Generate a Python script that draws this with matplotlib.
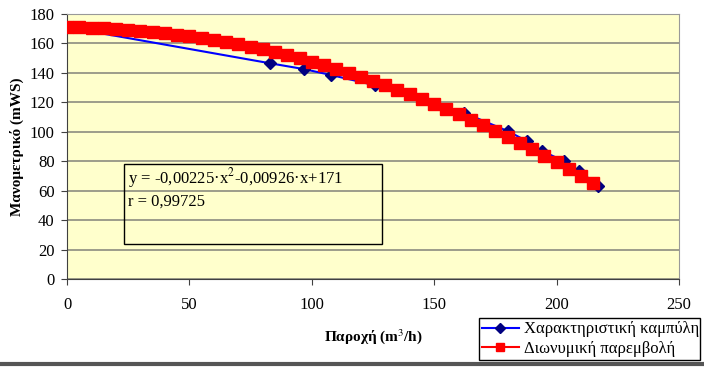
import matplotlib
matplotlib.use("Agg")
import matplotlib.pyplot as plt
from matplotlib.lines import Line2D

plt.rcParams["font.family"] = ["Liberation Serif", "DejaVu Serif"]
plt.rcParams["mathtext.fontset"] = "stix"

# Χαρακτηριστική καμπύλη (μετρήσεις)
q_meas = [0, 83, 97, 108, 126, 162, 180, 188, 194, 203, 209, 217]
h_meas = [171, 146.5, 142.5, 138.5, 131.5, 113, 100.5, 93.5, 87, 80, 73.5, 63.5]

# Διωνυμική παρεμβολή
q_fit = [0, 5, 10, 15, 20, 25, 30, 35, 40, 45, 50, 55, 60, 65, 70, 75, 80,
         85, 90, 95, 100, 105, 110, 115, 120, 125, 130, 135, 140, 145, 150,
         155, 160, 165, 170, 175, 180, 185, 190, 195, 200, 205, 210, 215]
h_fit = [171.0, 170.9, 170.7, 170.3, 169.9, 169.4, 168.7, 167.9, 167.0, 166.0,
         164.9, 163.7, 162.3, 160.9, 159.3, 157.7, 155.9, 154.0, 151.9, 149.8,
         147.6, 145.2, 142.8, 140.2, 137.5, 134.7, 131.8, 128.7, 125.6, 122.4,
         119.0, 115.5, 111.9, 108.2, 104.4, 100.5, 96.4, 92.3, 88.0, 83.6,
         79.2, 74.6, 69.8, 65.0]

eq_text = "y = -0,00225·x$^2$-0,00926·x+171\nr = 0,99725"

fig = plt.figure(figsize=(7.04, 3.67), dpi=100)
ax = fig.add_axes([0.0952, 0.2398, 0.8693, 0.7221])
ax.set_facecolor("#FFFFCC")

ax.plot(q_meas, h_meas, color="#0000FF", lw=1.5, marker="D", ms=6,
        mfc="#000080", mec="#000080", label="Χαρακτηριστική καμπύλη", zorder=3)
ax.plot(q_fit, h_fit, color="#FF0000", lw=1.5, marker="s", ms=8,
        mfc="#FF0000", mec="#FF0000", label="Διωνυμική παρεμβολή", zorder=4)

ax.set_xlim(0, 250)
ax.set_ylim(0, 180)
ax.set_xticks(range(0, 251, 50))
ax.set_yticks(range(0, 181, 20))
ax.grid(axis="y", color="#8C8C80", lw=1.2)
ax.set_axisbelow(True)
ax.tick_params(labelsize=12, length=4, color="#404040")
ax.tick_params(axis="x", pad=9)
ax.tick_params(axis="y", pad=5)
for s in ["top", "right"]:
    ax.spines[s].set_color("#999999")
for s in ["left", "bottom"]:
    ax.spines[s].set_color("#404040")

ax.set_xlabel("Παροχή (m$^3$/h)", fontsize=11, fontweight="bold", labelpad=10)
ax.set_ylabel("Μανομετρικό (mWS)", fontsize=11, fontweight="bold", labelpad=4)

ax.text(0.1, 0.425, eq_text, transform=ax.transAxes, fontsize=12,
        va="top", ha="left", linespacing=1.3)
# πλαίσιο εξίσωσης
eq_box = plt.Rectangle((0.0931, 0.1321), 0.4216, 0.3019, transform=ax.transAxes,
                       fill=False, ec="black", lw=1, zorder=5)
ax.add_patch(eq_box)

fig.legend(loc="lower left", bbox_to_anchor=(0.680, 0.019, 0.314, 0.131),
           mode="expand", fontsize=12, frameon=True, fancybox=False,
           edgecolor="black", framealpha=1, borderaxespad=0, handlelength=2.2,
           handletextpad=0.3, labelspacing=0.2, borderpad=0.2, markerscale=0.8)

fig.add_artist(Line2D([0, 1], [0.008, 0.008], transform=fig.transFigure,
                      color="#555555", lw=3))

fig.savefig("out.png", dpi=100)
